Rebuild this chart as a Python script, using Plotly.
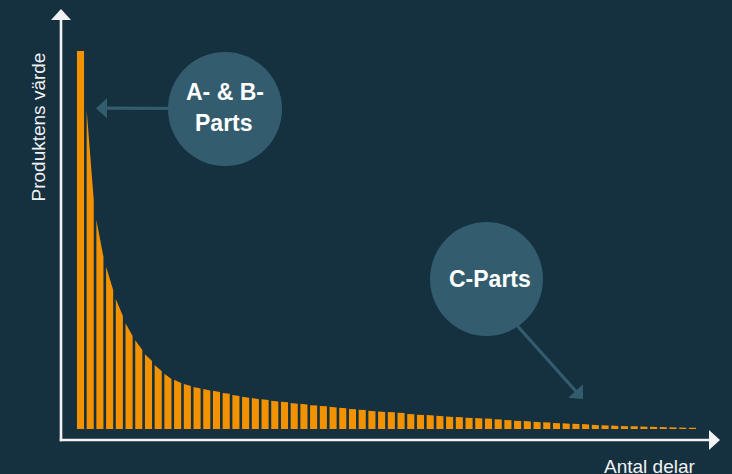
import plotly.graph_objects as go

W, H = 732, 474

# Parts ranked by value; each bar's value at its left and right edge
part_rank = list(range(1, 65))
value_start = [
    100.0, 84.4, 55.3, 42.9, 34.4, 28.0, 23.5, 19.8, 16.9, 14.6,
    13.0, 11.9, 11.1, 10.6, 10.1, 9.5, 9.0, 8.5, 8.2, 7.9,
    7.5, 7.2, 6.9, 6.7, 6.3, 6.1, 5.9, 5.6, 5.3, 5.1,
    4.8, 4.6, 4.5, 4.3, 4.0, 3.8, 3.7, 3.5, 3.3, 3.2,
    3.0, 2.9, 2.8, 2.6, 2.4, 2.2, 2.1, 1.9, 1.8, 1.6,
    1.5, 1.4, 1.3, 1.1, 1.0, 0.9, 0.8, 0.75, 0.65, 0.6,
    0.5, 0.45, 0.4, 0.35,
]
value_end = [
    100.0, 60.6, 45.5, 36.8, 29.9, 24.6, 20.9, 18.0, 15.3, 13.2,
    12.2, 11.4, 10.7, 10.2, 9.8, 9.3, 8.7, 8.3, 7.9, 7.7,
    7.3, 7.1, 6.7, 6.5, 6.2, 6.0, 5.7, 5.5, 5.2, 5.0,
    4.7, 4.5, 4.4, 4.2, 3.9, 3.7, 3.6, 3.4, 3.2, 3.1,
    2.9, 2.8, 2.7, 2.5, 2.3, 2.1, 2.0, 1.8, 1.7, 1.5,
    1.4, 1.3, 1.2, 1.0, 0.9, 0.8, 0.75, 0.7, 0.6, 0.55,
    0.45, 0.4, 0.35, 0.3,
]

y_title = "Produktens värde"
x_title = "Antal delar"
group_ab = ["A- & B-", "Parts"]
group_c = "C-Parts"

BG = "#15303F"
BAR = "#F39200"
BUBBLE = "#335D6E"
AXIS = "#F2F2F2"
FONT = "Liberation Sans, Arial, sans-serif"

# bars with sloped tops, one closed polygon per part
bar_width = 0.73
xs, ys = [], []
for r, v0, v1 in zip(part_rank, value_start, value_end):
    xl, xr = r - bar_width / 2, r + bar_width / 2
    xs += [xl, xl, xr, xr, xl, None]
    ys += [0, v0, v1, 0, 0, None]

fig = go.Figure(go.Scatter(
    x=xs, y=ys, mode="lines", fill="toself", fillcolor=BAR,
    line=dict(width=0, color=BAR), hoverinfo="skip", showlegend=False,
))


def px(x):
    return x / W


def py(y):
    return 1 - y / H


def tri(tip, back, half):
    # arrow head: tip point plus two base corners, given in pixels
    tx, ty = tip
    bx, by = back
    dx, dy = tx - bx, ty - by
    n = (dx * dx + dy * dy) ** 0.5
    ux, uy = dx / n, dy / n
    cx, cy = tx - ux * 11, ty - uy * 11
    p1 = (cx - uy * half, cy + ux * half)
    p2 = (cx + uy * half, cy - ux * half)
    pts = [tip, p1, p2]
    return "M " + " L ".join(f"{px(a):.5f},{py(b):.5f}" for a, b in pts) + " Z"


shapes = []
# axes with arrow heads
shapes.append(dict(type="line", xref="paper", yref="paper",
                   x0=px(61), x1=px(61), y0=py(19), y1=py(441.2),
                   line=dict(color=AXIS, width=2.6)))
shapes.append(dict(type="line", xref="paper", yref="paper",
                   x0=px(59.8), x1=px(711), y0=py(440), y1=py(440),
                   line=dict(color=AXIS, width=2.6)))
shapes.append(dict(type="path", xref="paper", yref="paper",
                   path=tri((61, 9), (61, 30), 10), fillcolor=AXIS,
                   line=dict(width=0)))
shapes.append(dict(type="path", xref="paper", yref="paper",
                   path=tri((720, 440), (700, 440), 10), fillcolor=AXIS,
                   line=dict(width=0)))

# callout arrows
shapes.append(dict(type="line", xref="paper", yref="paper",
                   x0=px(190), x1=px(104), y0=py(108.5), y1=py(108.2),
                   line=dict(color=BUBBLE, width=3.2)))
shapes.append(dict(type="path", xref="paper", yref="paper",
                   path=tri((96, 108.2), (120, 108.2), 10), fillcolor=BUBBLE,
                   line=dict(width=0)))
shapes.append(dict(type="line", xref="paper", yref="paper",
                   x0=px(505), x1=px(577), y0=py(312), y1=py(392.5),
                   line=dict(color=BUBBLE, width=3.2)))
shapes.append(dict(type="path", xref="paper", yref="paper",
                   path=tri((583, 399), (517, 327), 10), fillcolor=BUBBLE,
                   line=dict(width=0)))

# bubbles
shapes.append(dict(type="circle", xref="paper", yref="paper",
                   x0=px(168), x1=px(282), y0=py(166), y1=py(52),
                   fillcolor=BUBBLE, line=dict(width=0)))
shapes.append(dict(type="circle", xref="paper", yref="paper",
                   x0=px(430), x1=px(543), y0=py(336), y1=py(222),
                   fillcolor=BUBBLE, line=dict(width=0)))

bold = dict(family=FONT, size=23, color="#FFFFFF")
annotations = [
    dict(text=f"<b>{group_ab[0]}</b>", x=px(225), y=py(92), xref="paper", yref="paper",
         xanchor="center", yanchor="middle", showarrow=False, font=bold),
    dict(text=f"<b>{group_ab[1]}</b>", x=px(224.5), y=py(122.5), xref="paper", yref="paper",
         xanchor="center", yanchor="middle", showarrow=False, font=bold),
    dict(text=f"<b>{group_c}</b>", x=px(489.5), y=py(278.5), xref="paper", yref="paper",
         xanchor="center", yanchor="middle", showarrow=False, font=bold),
    dict(text=y_title, x=px(38.5), y=py(127), xref="paper", yref="paper",
         xanchor="center", yanchor="middle", textangle=-90, showarrow=False,
         font=dict(family=FONT, size=19, color=AXIS)),
    dict(text=x_title, x=px(649.5), y=py(454), xref="paper", yref="paper",
         xanchor="center", yanchor="top", showarrow=False,
         font=dict(family=FONT, size=19, color=AXIS)),
]

x0 = 1 - 80.5 / 9.714
fig.update_layout(
    width=W, height=H,
    margin=dict(l=0, r=0, t=0, b=0),
    paper_bgcolor=BG, plot_bgcolor=BG,
    xaxis=dict(range=[x0, x0 + W / 9.714], visible=False, fixedrange=True),
    yaxis=dict(range=[-(H - 429) / 3.78, 429 / 3.78], visible=False, fixedrange=True),
    shapes=shapes,
    annotations=annotations,
    showlegend=False,
)

fig.write_html("out.html")
